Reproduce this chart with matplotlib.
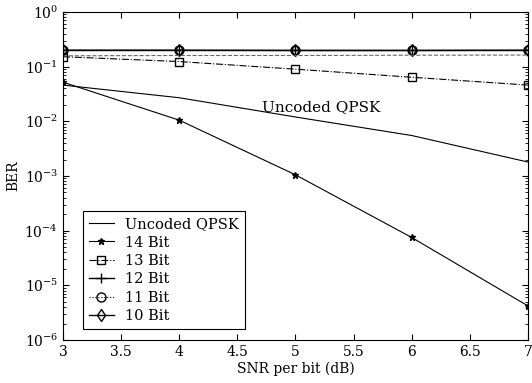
# BER vs SNR per bit for the quantised decoders
import matplotlib
matplotlib.use("Agg")
import matplotlib.pyplot as plt
from matplotlib.ticker import NullFormatter
import numpy as np

plt.rcParams['font.family'] = ['DejaVu Serif']
plt.rcParams['mathtext.fontset'] = 'dejavuserif'
plt.rcParams['font.size'] = 10

snr = [3, 4, 5, 6, 7]  # dB
uncoded = [0.046, 0.027, 0.012, 0.0055, 0.0018]
bit14 = [0.052, 0.0105, 0.00105, 7.5e-5, 4.2e-6]
bit13 = [0.152, 0.124, 0.09, 0.064, 0.046]
bit12 = [0.2, 0.2, 0.198, 0.198, 0.2]
bit11 = [0.2, 0.2, 0.2, 0.2, 0.2]
bit10 = [0.2, 0.2, 0.2, 0.2, 0.2]
extra = [0.158, 0.16, 0.16, 0.162, 0.163]  # dashed line with no markers

fig = plt.figure(figsize=(5.32, 3.83), dpi=100)
ax = fig.add_axes([0.1184, 0.1123, 0.874, 0.8564])

lw = 0.8
ax.semilogy(snr, uncoded, '-', color='k', lw=lw, label='Uncoded QPSK')
ax.semilogy(snr, bit14, '-', color='k', lw=lw, marker='*', ms=5, label='14 Bit')
ax.semilogy(snr, bit13, '-.', color='k', lw=lw, marker='s', ms=5.5, mfc='none', label='13 Bit')
ax.semilogy(snr, bit12, '-', color='k', lw=1.0, marker='+', ms=7, label='12 Bit')
ax.semilogy(snr, bit11, ':', color='k', lw=lw, marker='o', ms=6.5, mfc='none', label='11 Bit')
ax.semilogy(snr, bit10, '-', color='k', lw=1.0, marker='d', ms=6, mfc='none', label='10 Bit')
ax.semilogy(snr, extra, '--', color='0.4', lw=lw, label='_nolegend_')

ax.text(4.71, 0.0183, 'Uncoded QPSK', fontsize=11, va='center', ha='left')

ax.set_xlim(3, 7)
ax.set_ylim(1e-6, 1)
ax.set_xticks([3, 3.5, 4, 4.5, 5, 5.5, 6, 6.5, 7])
ax.set_xticklabels(['3', '3.5', '4', '4.5', '5', '5.5', '6', '6.5', '7'])
ax.yaxis.set_minor_formatter(NullFormatter())
ax.tick_params(which='both', direction='in', top=True, right=True)
ax.tick_params(which='major', length=4)
ax.tick_params(which='minor', length=2)
ax.set_xlabel('SNR per bit (dB)', labelpad=2)
ax.set_ylabel('BER', labelpad=3)

leg = ax.legend(loc='lower left', bbox_to_anchor=(0.043, 0.034), borderaxespad=0,
                fancybox=False, edgecolor='k', framealpha=1, handlelength=1.7,
                labelspacing=0.3, borderpad=0.4, fontsize=10.5)
leg.get_frame().set_linewidth(0.8)

fig.savefig('out.png', dpi=100)
